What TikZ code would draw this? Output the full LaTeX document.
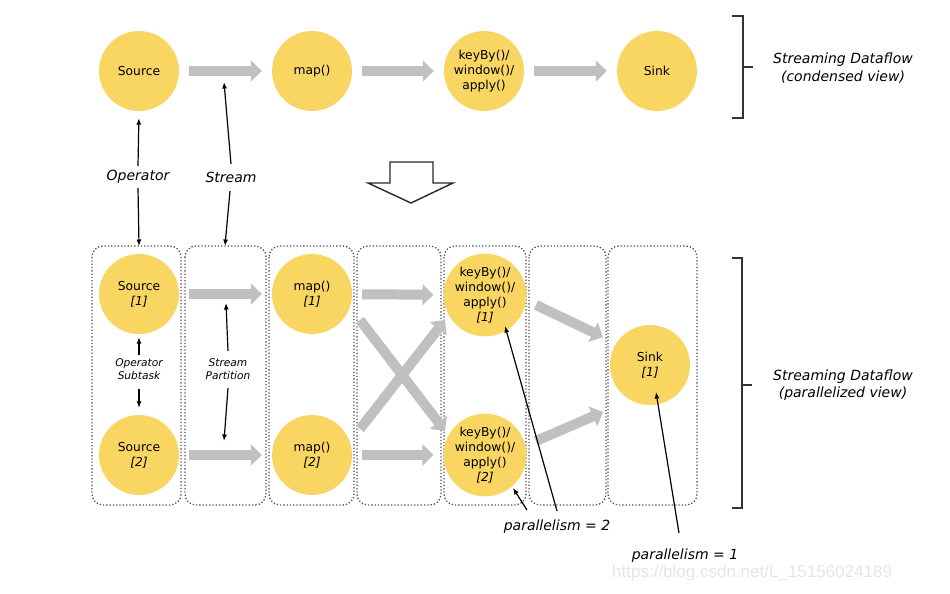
\documentclass[tikz,border=0pt]{standalone}
\usepackage{fontspec}
\setmainfont{DejaVu Sans}
\newfontfamily\wmfont{Liberation Sans}
\usetikzlibrary{arrows.meta}
\definecolor{opyellow}{RGB}{249,214,98}
\definecolor{flowgray}{RGB}{192,192,192}
\definecolor{boxgray}{RGB}{80,80,80}
\tikzset{
  op/.style={circle, fill=opyellow, minimum size=80pt, inner sep=0pt, align=center, font=\fontsize{12.3}{15.2}\selectfont},
  flow/.style={draw=flowgray, line width=10pt, -{Triangle[length=11pt,width=21pt]}},
  note/.style={draw=black, line width=1.2pt, -{Latex[length=6.5pt,width=5pt]}},
  lbl/.style={font=\fontsize{14}{17.5}\selectfont\itshape, align=center, inner sep=1pt},
  smalllbl/.style={font=\fontsize{10.6}{13.5}\selectfont\itshape, align=center, inner sep=1pt},
  lane/.style={draw=boxgray, dotted, line width=1.3pt, rounded corners=11pt},
  brace/.style={draw=black!80, line width=1.3pt},
}
\begin{document}
\begin{tikzpicture}[x=1pt,y=-1pt]
\useasboundingbox (0,0) rectangle (950,594);
% ---------- condensed view ----------
\node[op] (src) at (139,71) {Source};
\node[op] (map) at (312,71) {map()};
\node[op] (key) at (484,71) {keyBy()/\\window()/\\apply()};
\node[op] (sink) at (657,71) {Sink};
\draw[flow, shorten <=10pt, shorten >=10pt] (src) -- (map);
\draw[flow, shorten <=10pt, shorten >=10pt] (map) -- (key);
\draw[flow, shorten <=10pt, shorten >=10pt] (key) -- (sink);
% brace top
\draw[brace] (732,16) -- (743,16) -- (743,118) -- (732,118);
\draw[brace] (743,67) -- (753,67);
\node[lbl] (condensed) at (843,68) {Streaming Dataflow\\(condensed view)};
% ---------- lanes ----------
\draw[lane] (92,246) rectangle (181,505);
\draw[lane] (185,246) rectangle (266,505);
\draw[lane] (269,246) rectangle (354,505);
\draw[lane] (357,246) rectangle (441,505);
\draw[lane] (444,246) rectangle (526,505);
\draw[lane] (529,246) rectangle (606,505);
\draw[lane] (608,246) rectangle (697,505);
\coordinate (lane1top) at (139,246);
\coordinate (lane2top) at (225,246);
% ---------- operator / stream labels ----------
\node[lbl] (oplbl) at (138,177) {Operator};
\node[lbl] (stlbl) at (231,177) {Stream};
\draw[note, shorten >=7pt] (oplbl.north) ++(0,-3) coordinate (opA) -- (src.south);
\draw[note] (oplbl.south) ++(0,3) coordinate (opB) -- (lane1top);
\coordinate (stTop) at (224,82);
\draw[note] (231,164) coordinate (stA) -- (stTop);
\draw[note] (230,191) coordinate (stB) -- (lane2top);
% big hollow arrow
\draw[black!85, line width=1.4pt, line join=miter]
  (390,162) -- (433,162) -- (433,183) -- (453,183) -- (411,203) -- (368,183) -- (390,183) -- cycle;
% ---------- parallel view ----------
\node[op] (src1) at (139,294) {Source\\\textit{[1]}};
\node[op] (src2) at (139,455) {Source\\\textit{[2]}};
\node[op] (map1) at (312,294) {map()\\\textit{[1]}};
\node[op] (map2) at (312,455) {map()\\\textit{[2]}};
\node[op] (key1) at (485,295) {keyBy()/\\window()/\\apply()\\\textit{[1]}};
\node[op] (key2) at (485,455) {keyBy()/\\window()/\\apply()\\\textit{[2]}};
\node[op] (sink1) at (650,365) {Sink\\\textit{[1]}};
\draw[flow, shorten <=10pt, shorten >=10pt] (src1) -- (map1);
\draw[flow, shorten <=10pt, shorten >=10pt] (src2) -- (map2);
\draw[flow, shorten <=10pt, shorten >=10pt] (map1) -- (key1);
\draw[flow, shorten <=10pt, shorten >=10pt] (map2) -- (key2);
\coordinate (xA1) at (360,320);
\coordinate (xA2) at (445,431);
\coordinate (xB1) at (360,429);
\coordinate (xB2) at (445,320);
\draw[flow] (xA1) -- (xA2);
\draw[flow] (xB1) -- (xB2);
\coordinate (k1s) at (536,305);
\coordinate (k1e) at (603,337);
\coordinate (k2s) at (536,441);
\coordinate (k2e) at (603,412);
\draw[flow] (k1s) -- (k1e);
\draw[flow] (k2s) -- (k2e);
% operator subtask / stream partition
\node[smalllbl] (subtask) at (139,369) {Operator\\Subtask};
\draw[note, shorten >=3pt] (139,355) coordinate (osA) -- (src1.south);
\draw[note, shorten >=7pt] (139,389) coordinate (osB) -- (src2.north);
\node[smalllbl] (partition) at (228,369) {Stream\\Partition};
\coordinate (spTop) at (226,303);
\coordinate (spBot) at (224,441);
\draw[note] (228,351) coordinate (spA) -- (spTop);
\draw[note] (228,388) coordinate (spB) -- (spBot);
% brace bottom
\draw[brace] (732,258) -- (742,258) -- (742,508) -- (732,508);
\draw[brace] (742,385) -- (752,385);
\node[lbl] (parallelized) at (843,385) {Streaming Dataflow\\(parallelized view)};
% parallelism labels
\node[lbl] (par2) at (557,527) {parallelism = 2};
\node[lbl] (par1) at (685,556) {parallelism = 1};
\coordinate (p2a) at (527,510);
\coordinate (p2t) at (513,488);
\coordinate (p2b) at (557,511);
\coordinate (p2u) at (505,326);
\coordinate (p1a) at (679,533);
\coordinate (p1t) at (656,392);
\draw[note] (p2a) -- (p2t);
\draw[note] (p2b) -- (p2u);
\draw[note] (p1a) -- (p1t);
% watermark
\node[font=\wmfont\fontsize{17}{20}\selectfont, text=black!10, anchor=west, inner sep=0pt] (wm) at (612,573) {https://blog.csdn.net/L\_15156024189};
\end{tikzpicture}
\end{document}
